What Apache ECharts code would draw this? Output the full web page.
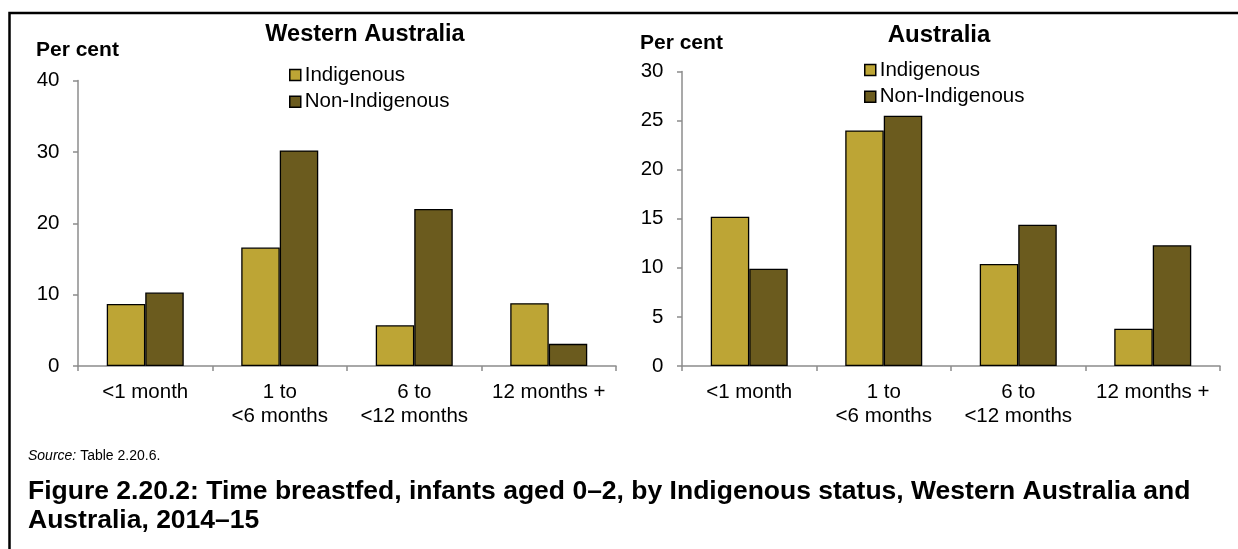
<!DOCTYPE html>
<html>
<head>
<meta charset="utf-8">
<script src="https://cdn.jsdelivr.net/npm/echarts@6/dist/echarts.min.js"></script>
<style>
  html, body { margin: 0; padding: 0; background: #ffffff; }
  #chart { width: 1238px; height: 549px; }
</style>
</head>
<body>
<div id="chart"></div>
<script>
// ---- Data ----
const categories = ['<1 month', '1 to\n<6 months', '6 to\n<12 months', '12 months +'];
const seriesNames = ['Indigenous', 'Non-Indigenous'];
const waIndigenous = [8.7, 16.6, 5.7, 8.8];
const waNonIndigenous = [10.3, 30.2, 22.0, 3.1];
const ausIndigenous = [15.2, 24.0, 10.4, 3.8];
const ausNonIndigenous = [9.9, 25.5, 14.4, 12.3];
const panelTitles = ['Western Australia', 'Australia'];
const yAxisLabel = 'Per cent';
const sourceText = 'Table 2.20.6.';
const captionLines = [
  'Figure 2.20.2: Time breastfed, infants aged 0\u20132, by Indigenous status, Western Australia and',
  'Australia, 2014\u201315'
];

// ---- Styles ----
const FONT = 'Arial, "Liberation Sans", sans-serif';
const colIndig = '#BDA535';
const colNon = '#6B5B1E';
const axisGrey = '#8c8c8c';

const chart = echarts.init(document.getElementById('chart'), null, { renderer: 'canvas' });

function xAxisCfg(gridIndex) {
  return {
    type: 'category', gridIndex: gridIndex, data: categories, boundaryGap: true,
    axisLine: { show: true, lineStyle: { color: axisGrey, width: 1.5 } },
    axisTick: { show: true, alignWithLabel: false, length: 5, lineStyle: { color: axisGrey, width: 1.5 } },
    axisLabel: { color: '#000', fontFamily: FONT, fontSize: 20.5, lineHeight: 24, margin: 14, interval: 0 },
    splitLine: { show: false }
  };
}
function yAxisCfg(gridIndex, max, interval) {
  return {
    type: 'value', gridIndex: gridIndex, min: 0, max: max, interval: interval,
    axisLine: { show: true, lineStyle: { color: axisGrey, width: 1.5 } },
    axisTick: { show: true, length: 5, lineStyle: { color: axisGrey, width: 1.5 } },
    axisLabel: { color: '#000', fontFamily: FONT, fontSize: 20.5, margin: 18.5 },
    splitLine: { show: false }
  };
}
function barSeries(name, idx, data, color) {
  return {
    name: name, type: 'bar', xAxisIndex: idx, yAxisIndex: idx, data: data,
    barWidth: 38.5, barGap: '0%',
    itemStyle: { color: color, borderColor: '#000', borderWidth: 1.3 },
    emphasis: { disabled: true }
  };
}
function legendCfg(left, top) {
  return {
    orient: 'vertical', left: left, top: top, data: seriesNames,
    icon: 'rect',
    itemWidth: 11, itemHeight: 11, itemGap: 2.7, padding: 0,
    selectedMode: false,
    itemStyle: { borderColor: '#000', borderWidth: 1.5 },
    textStyle: { color: '#000', fontFamily: FONT, fontSize: 20.5, lineHeight: 24, padding: [0, 0, 0, -1] }
  };
}
function txt(x, y, text, size, weight, align, extra) {
  return {
    type: 'text', x: x, y: y, silent: true,
    style: Object.assign({
      text: text, fill: '#000', font: weight + ' ' + size + 'px ' + FONT,
      textAlign: align, textVerticalAlign: 'middle'
    }, extra || {})
  };
}

const option = {
  animation: false,
  backgroundColor: '#ffffff',
  grid: [
    { left: 78, top: 80.5, width: 538, height: 285.5, containLabel: false },
    { left: 682, top: 71.5, width: 538, height: 294.5, containLabel: false }
  ],
  xAxis: [xAxisCfg(0), xAxisCfg(1)],
  yAxis: [yAxisCfg(0, 40, 10), yAxisCfg(1, 30, 5)],
  legend: [legendCfg(289, 63), legendCfg(864, 58)],
  series: [
    barSeries(seriesNames[0], 0, waIndigenous, colIndig),
    barSeries(seriesNames[1], 0, waNonIndigenous, colNon),
    barSeries(seriesNames[0], 1, ausIndigenous, colIndig),
    barSeries(seriesNames[1], 1, ausNonIndigenous, colNon)
  ],
  graphic: [
    { type: 'polyline', silent: true, shape: { points: [[9.5, 549], [9.5, 13], [1238, 13]] },
      style: { stroke: '#000', lineWidth: 2.5, fill: null } },
    txt(365, 35, panelTitles[0], 23.5, 'bold', 'center'),
    txt(939, 35, panelTitles[1], 24, 'bold', 'center'),
    txt(36, 50, yAxisLabel, 21, 'bold', 'left'),
    txt(640, 43, yAxisLabel, 21, 'bold', 'left'),
    {
      type: 'text', x: 28, y: 456, silent: true,
      style: {
        text: '{i|Source:} ' + sourceText,
        font: '14px ' + FONT, fill: '#000', textVerticalAlign: 'middle',
        rich: { i: { fontStyle: 'italic', fontSize: 14, fontFamily: FONT, fill: '#000' } }
      }
    },
    txt(28, 492, captionLines[0], 26.5, 'bold', 'left'),
    txt(28, 521, captionLines[1], 26.5, 'bold', 'left')
  ]
};
chart.setOption(option);
</script>
</body>
</html>
